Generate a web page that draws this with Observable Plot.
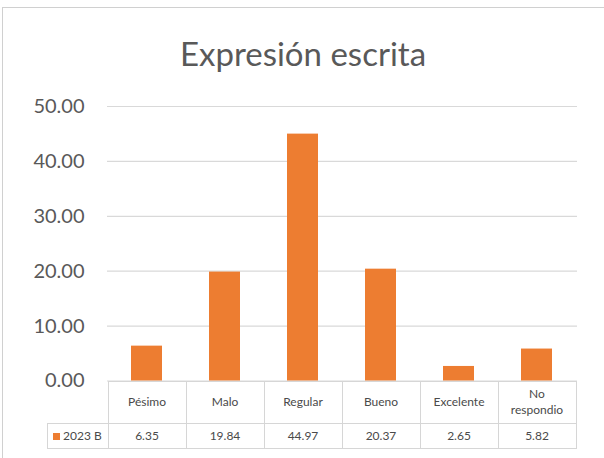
<!DOCTYPE html>
<html>
<head>
<meta charset="utf-8">
<script src="https://cdn.jsdelivr.net/npm/d3@7"></script>
<script src="https://cdn.jsdelivr.net/npm/@observablehq/plot@0.6"></script>
<style>
  html, body { margin: 0; padding: 0; background: #fff; }
  #wrap { position: relative; width: 604px; height: 458px; overflow: hidden; font-family: Lato, "Open Sans", sans-serif; }
  #wrap svg { position: absolute; left: 0; top: 0; }
  #title { position: absolute; left: 0; width: 606px; top: 33px; text-align: center; font-size: 33px; font-weight: 400; color: #595959; line-height: 40px; }
  #border { position: absolute; left: 2px; top: 7px; width: 700px; height: 600px; border-left: 1px solid #d0d0d0; border-top: 1px solid #d0d0d0; pointer-events: none; }
  table { position: absolute; border-collapse: collapse; table-layout: fixed; font-size: 12px; color: #4a4a4a; }
  td { border: 1px solid #d6d6d6; text-align: center; padding: 0 7px; box-sizing: border-box; line-height: 16px; }
  td.blank { border: none; }
  td.legend { text-align: left; padding-left: 5px; white-space: nowrap; }
  .key { display: inline-block; width: 7px; height: 7px; margin-right: 3px; vertical-align: 0px; }
</style>
</head>
<body>
<div id="wrap"></div>
<script>
const title = "Expresión escrita";
const seriesName = "2023 B";
const categories = ["Pésimo", "Malo", "Regular", "Bueno", "Excelente", "No respondio"];
const values = [6.35, 19.84, 44.97, 20.37, 2.65, 5.82];
const yTicks = [0, 10, 20, 30, 40, 50];

const barColor = "#ED7D31";
const data = categories.map((c, i) => ({category: c, value: values[i]}));

const plot = Plot.plot({
  width: 604,
  height: 458,
  marginTop: 106,
  marginBottom: 77.5,
  marginLeft: 107,
  marginRight: 27,
  style: {fontFamily: "Lato, 'Open Sans', sans-serif", fontSize: "20px", color: "#595959", background: "transparent"},
  x: {domain: categories, paddingInner: 0.6, paddingOuter: 0.3, axis: null},
  y: {domain: [0, 50], ticks: yTicks, tickSize: 0, tickPadding: 23, tickFormat: d => d.toFixed(2), label: null},
  marks: [
    Plot.ruleY(yTicks, {stroke: "#d9d9d9", strokeWidth: 1.2}),
    Plot.barY(data, {x: "category", y: "value", fill: barColor})
  ]
});

const wrap = document.getElementById("wrap");
wrap.appendChild(plot);

const t = document.createElement("div");
t.id = "title";
t.textContent = title;
wrap.appendChild(t);

// data table aligned to the plot's x scale
const xs = plot.scale("x");
const ys = plot.scale("y");
const step = xs.step;
const firstLeft = xs.apply(categories[0]) - (step - xs.bandwidth) / 2;
const legendW = 60.5;

const table = document.createElement("table");
table.style.left = (firstLeft - legendW) + "px";
table.style.top = ys.apply(0) + "px";
table.style.width = (legendW + step * categories.length) + "px";
const cg = document.createElement("colgroup");
[legendW, ...categories.map(() => step)].forEach(w => {
  const col = document.createElement("col");
  col.style.width = w + "px";
  cg.appendChild(col);
});
table.appendChild(cg);

const r1 = document.createElement("tr");
r1.style.height = "42px";
const blank = document.createElement("td");
blank.className = "blank";
r1.appendChild(blank);
categories.forEach(c => {
  const td = document.createElement("td");
  td.textContent = c;
  r1.appendChild(td);
});
table.appendChild(r1);

const r2 = document.createElement("tr");
r2.style.height = "25px";
const lg = document.createElement("td");
lg.className = "legend";
const key = document.createElement("span");
key.className = "key";
key.style.background = barColor;
lg.appendChild(key);
lg.appendChild(document.createTextNode(seriesName));
r2.appendChild(lg);
values.forEach(v => {
  const td = document.createElement("td");
  td.textContent = v.toFixed(2);
  r2.appendChild(td);
});
table.appendChild(r2);
wrap.appendChild(table);

const b = document.createElement("div");
b.id = "border";
wrap.appendChild(b);
</script>
</body>
</html>
